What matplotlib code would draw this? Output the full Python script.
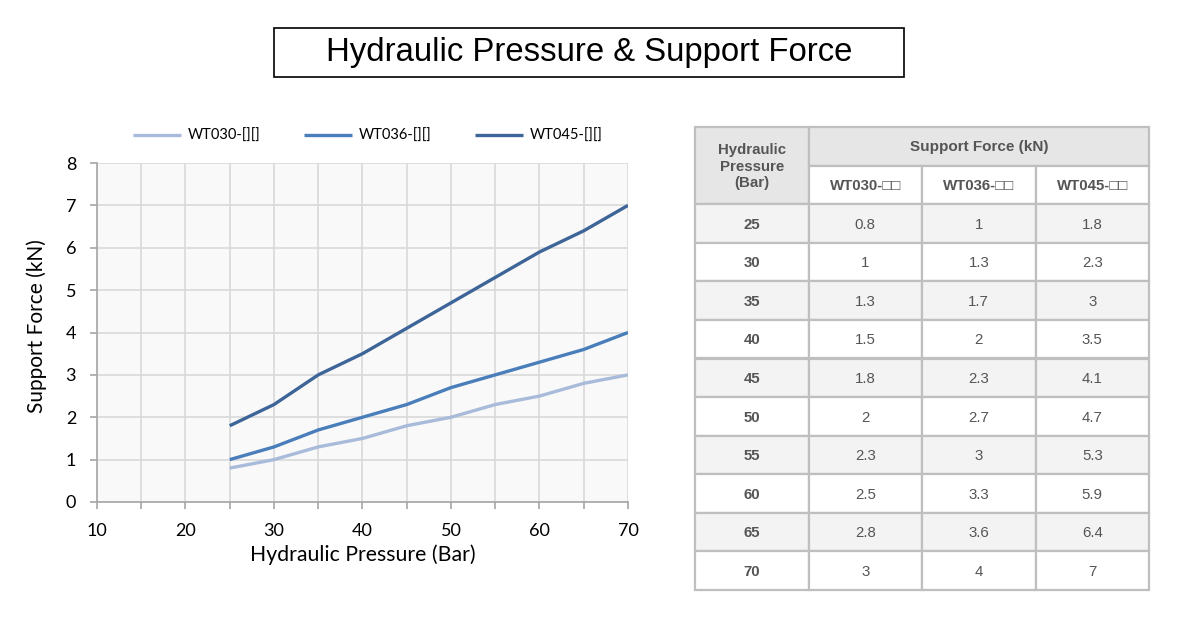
import numpy as np
import matplotlib.pyplot as plt
from matplotlib.patches import Rectangle

pressure = [25, 30, 35, 40, 45, 50, 55, 60, 65, 70]
wt030 = [0.8, 1, 1.3, 1.5, 1.8, 2, 2.3, 2.5, 2.8, 3]
wt036 = [1, 1.3, 1.7, 2, 2.3, 2.7, 3, 3.3, 3.6, 4]
wt045 = [1.8, 2.3, 3, 3.5, 4.1, 4.7, 5.3, 5.9, 6.4, 7]
series_names = ['WT030-[][]', 'WT036-[][]', 'WT045-[][]']
table_models = ['WT030-□□', 'WT036-□□', 'WT045-□□']
colors = ['#A9BBDA', '#4A7EBB', '#3E6598']

W, H = 1186, 626
fig = plt.figure(figsize=(W / 100, H / 100), dpi=100)

def fbox(x0, y0, x1, y1):
    # pixel box -> figure fraction [l, b, w, h]
    return [x0 / W, 1 - y1 / H, (x1 - x0) / W, (y1 - y0) / H]

# title box
fig.patches.append(Rectangle((274 / W, 1 - 77 / H), 630 / W, 49 / H,
                             transform=fig.transFigure, fill=False,
                             edgecolor='black', linewidth=1.2))
fig.text(589 / W, 1 - 53 / H, 'Hydraulic Pressure & Support Force',
         ha='center', va='center', fontsize=23.7, family='Liberation Sans')

# chart
ax = fig.add_axes(fbox(97, 163, 628, 502))
ax.set_facecolor('#F9F9F9')
for vals, c, name in zip([wt030, wt036, wt045], colors, series_names):
    ax.plot(pressure, vals, color=c, linewidth=2.4, label=name,
            solid_capstyle='butt')
ax.set_xlim(10, 70)
ax.set_ylim(0, 8)
ax.set_xticks(np.arange(10, 71, 5))
ax.set_xticklabels([str(v) if v % 10 == 0 else '' for v in range(10, 71, 5)])
ax.set_yticks(range(0, 9))
ax.grid(True, color='#D9D9D9', linewidth=1.2)
ax.set_axisbelow(True)
for s in ['top', 'right']:
    ax.spines[s].set_visible(False)
for s in ['left', 'bottom']:
    ax.spines[s].set_color('#A6A6A6')
    ax.spines[s].set_linewidth(1.2)
ax.tick_params(axis='both', colors='#A6A6A6', labelcolor='black',
               length=5, width=1.2, labelsize=13, direction='out')
ax.tick_params(axis='x', pad=10)
ax.tick_params(axis='y', pad=10)
for lab in ax.get_xticklabels() + ax.get_yticklabels():
    lab.set_family('Lato')
ax.set_xlabel('Hydraulic Pressure (Bar)', fontsize=15.3, family='Lato', labelpad=4)
ax.set_ylabel('Support Force (kN)', fontsize=15, family='Lato')
ax.yaxis.set_label_coords(-0.094, 0.52)
leg = ax.legend(loc='lower center', bbox_to_anchor=(0.51, 1.02), ncol=3,
                frameon=False, handlelength=3.3,
                columnspacing=3.0, handletextpad=0.45,
                prop={'family': 'Lato', 'size': 10.5})

# table
tx = fig.add_axes(fbox(695, 127, 1149, 590))
tx.set_xlim(0, 4)
tx.set_ylim(12, 0)
tx.axis('off')
grid_c = '#BFBFBF'
txt_c = '#555555'

def cell(c0, r0, cw, rh, face, text, bold=False, size=10.8):
    tx.add_patch(Rectangle((c0, r0), cw, rh, facecolor=face, edgecolor=grid_c,
                           linewidth=1.6, clip_on=False))
    tx.text(c0 + cw / 2, r0 + rh / 2 + 0.03, text, ha='center', va='center',
            fontsize=size, color=txt_c, family='Liberation Sans',
            fontweight='bold' if bold else 'normal', linespacing=1.22)

cell(0, 0, 1, 2, '#E6E6E6', 'Hydraulic\nPressure\n(Bar)', bold=True)
cell(1, 0, 3, 1, '#E6E6E6', 'Support Force (kN)', bold=True, size=11)
for j, m in enumerate(table_models):
    cell(1 + j, 1, 1, 1, 'white', m, bold=True)
for i, p in enumerate(pressure):
    face = '#F3F3F3' if i % 2 == 0 else 'white'
    r = 2 + i
    cell(0, r, 1, 1, face, str(p), bold=True)
    for j, vals in enumerate([wt030, wt036, wt045]):
        cell(1 + j, r, 1, 1, face, f'{vals[i]:g}')

fig.savefig('out.png', dpi=100)
